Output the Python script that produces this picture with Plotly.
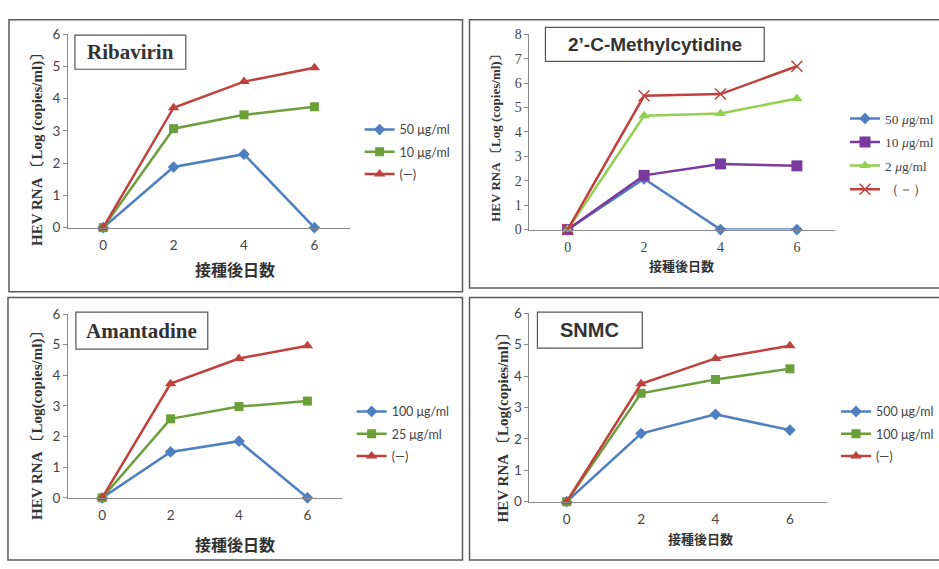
import plotly.graph_objects as go

W, H = 939, 569

days = [0, 2, 4, 6]
x_ticks = ["0", "2", "4", "6"]

rib_50 = [0, 1.88, 2.28, 0]
rib_10 = [0, 3.07, 3.50, 3.75]
rib_ctrl = [0, 3.72, 4.53, 4.96]

mc_50 = [0, 2.08, 0, 0]
mc_10 = [0, 2.22, 2.69, 2.61]
mc_2 = [0, 4.66, 4.75, 5.37]
mc_ctrl = [0, 5.48, 5.55, 6.69]

am_100 = [0, 1.50, 1.85, 0]
am_25 = [0, 2.58, 2.98, 3.16]
am_ctrl = [0, 3.73, 4.55, 4.97]

sn_500 = [0, 2.17, 2.78, 2.28]
sn_100 = [0, 3.45, 3.89, 4.23]
sn_ctrl = [0, 3.75, 4.56, 4.96]

titles = ["Ribavirin", "2’-C-Methylcytidine", "Amantadine", "SNMC"]
xlabel = "接種後日数"
ylabels = ["HEV RNA 〔Log (copies/ml)〕", "HEV RNA 〔Log (copies/ml)〕",
           "HEV RNA 〔Log(copies/ml)〕", "HEV RNA 〔Log(copies/ml)〕"]

BLUE = "#4F7FC0"
GREEN = "#6A9F3A"
RED = "#C0403C"
PURPLE = "#7A3A9E"
LGREEN = "#92D050"

SANS = "Lato, Liberation Sans, sans-serif"
SERIF = "Liberation Serif, Times New Roman, serif"
ARIAL = "Liberation Sans, Arial, sans-serif"
CJK = "Noto Sans CJK JP, sans-serif"


def px(x):
    return x / W


def py(y):
    return 1 - y / H


fig = go.Figure()

# panel geometry (pixels): x0, x1, ytop, ybottom, ymax
panels = [
    dict(x0=68, x1=350, yt=27, yb=226, ymax=6, tfont=SANS, tsize=13.5),
    dict(x0=530, x1=836, yt=27, yb=228, ymax=8, tfont=SERIF, tsize=14),
    dict(x0=68, x1=342, yt=315, yb=504, ymax=6, tfont=SANS, tsize=13.5),
    dict(x0=530, x1=828, yt=314, yb=508, ymax=6, tfont=SANS, tsize=13.5),
]

series = [
    [("50 μg/ml", rib_50, BLUE, "diamond", 9),
     ("10 μg/ml", rib_10, GREEN, "square", 9),
     ("(—)", rib_ctrl, RED, "triangle-up", 10)],
    [("50 <i>μ</i>g/ml", mc_50, BLUE, "diamond", 9),
     ("10 <i>μ</i>g/ml", mc_10, PURPLE, "square", 11),
     ("2 <i>μ</i>g/ml", mc_2, LGREEN, "triangle-up", 10),
     ("（－）", mc_ctrl, RED, "x-thin", 11)],
    [("100 μg/ml", am_100, BLUE, "diamond", 9),
     ("25 μg/ml", am_25, GREEN, "square", 9),
     ("(—)", am_ctrl, RED, "triangle-up", 10)],
    [("500 μg/ml", sn_500, BLUE, "diamond", 9),
     ("100 μg/ml", sn_100, GREEN, "square", 9),
     ("(—)", sn_ctrl, RED, "triangle-up", 10)],
]

legend_pos = [(360, 110), (846, 98), (352, 400), (837, 400)]
legend_fonts = [SANS, SERIF, SANS, SANS]
legend_sizes = [12.5, 13.5, 12.5, 12.5]

for i, (p, ser) in enumerate(zip(panels, series)):
    n = "" if i == 0 else str(i + 1)
    lg = "legend" if i == 0 else f"legend{i + 1}"
    for j, (name, vals, col, sym, sz) in enumerate(ser):
        mk = dict(symbol=sym, size=sz, color=col)
        if sym == "x-thin":
            mk["line"] = dict(color=col, width=1.5)
        fig.add_trace(go.Scatter(
            x=days, y=vals, name=name, mode="lines+markers",
            line=dict(color=col, width=2.5), marker=mk,
            xaxis=f"x{n}", yaxis=f"y{n}", legend=lg,
            legendgroup=f"g{i}_{j}", cliponaxis=False,
        ))
    axis_common = dict(showgrid=False, zeroline=False, showline=True,
                       linecolor="#8a8a8a", linewidth=1)
    fig.layout[f"xaxis{n}"] = dict(
        axis_common, domain=[px(p["x0"]), px(p["x1"])], range=[-1, 7],
        tickvals=days, ticktext=x_ticks, ticks="",
        tickfont=dict(family=p["tfont"], size=p["tsize"], color="#444"),
        anchor=f"y{n}", ticklabelstandoff=5,
    )
    fig.layout[f"yaxis{n}"] = dict(
        axis_common, domain=[py(p["yb"]), py(p["yt"])], range=[0, p["ymax"]],
        dtick=1, ticks="outside", ticklen=4, tickcolor="#8a8a8a",
        tickfont=dict(family=p["tfont"], size=p["tsize"], color="#444"),
        anchor=f"x{n}",
    )
    lx, ly = legend_pos[i]
    fig.layout[lg] = dict(
        x=px(lx), y=py(ly), xanchor="left", yanchor="top",
        bgcolor="rgba(0,0,0,0)", traceorder="grouped", tracegroupgap=3,
        font=dict(family=legend_fonts[i], size=legend_sizes[i], color="#444"),
    )

# panel frames
frames = [(9, 12, 463, 292), (470, 12, 950, 288), (8, 298, 463, 568), (470, 298, 950, 568)]
shapes = []
for (x0, y0, x1, y1) in frames:
    shapes.append(dict(type="rect", xref="paper", yref="paper",
                       x0=px(x0), x1=px(x1), y0=py(y1), y1=py(y0),
                       line=dict(color="#5a5a5a", width=1.5)))

# title boxes
tboxes = [(75, 28, 186, 63), (546, 20, 765, 55), (76, 313, 208, 351), (538, 313, 643, 350)]
tfonts = [(SERIF, 21), (ARIAL, 19), (SERIF, 21), (ARIAL, 20)]
annotations = []
for (x0, y0, x1, y1), t, (ff, fs) in zip(tboxes, titles, tfonts):
    shapes.append(dict(type="rect", xref="paper", yref="paper",
                       x0=px(x0), x1=px(x1), y0=py(y1), y1=py(y0),
                       line=dict(color="#555", width=1.2), fillcolor="white"))
    annotations.append(dict(xref="paper", yref="paper", x=px((x0 + x1) / 2),
                            y=py((y0 + y1) / 2), text=f"<b>{t}</b>", showarrow=False,
                            xanchor="center", yanchor="middle",
                            font=dict(family=ff, size=fs, color="#333")))

# axis titles
xt = [(235, 269, 16), (682, 265, 13), (235, 551, 16), (701, 546, 13)]
for (x, y, fs) in xt:
    annotations.append(dict(xref="paper", yref="paper", x=px(x), y=py(y),
                            text=f"<b>{xlabel}</b>", showarrow=False,
                            xanchor="center", yanchor="middle",
                            font=dict(family=CJK, size=fs, color="#333")))
yt = [(37, 142, 15), (496, 131, 13), (37, 426, 15), (505, 428, 15)]
for (x, y, fs), lab in zip(yt, ylabels):
    annotations.append(dict(xref="paper", yref="paper", x=px(x), y=py(y),
                            text=f"<b>{lab}</b>", showarrow=False, textangle=-90,
                            xanchor="center", yanchor="middle",
                            font=dict(family=SERIF, size=fs, color="#333")))

fig.update_layout(
    width=W, height=H, margin=dict(l=0, r=0, t=0, b=0),
    paper_bgcolor="white", plot_bgcolor="white",
    shapes=shapes, annotations=annotations,
)

fig.write_html("out.html")
